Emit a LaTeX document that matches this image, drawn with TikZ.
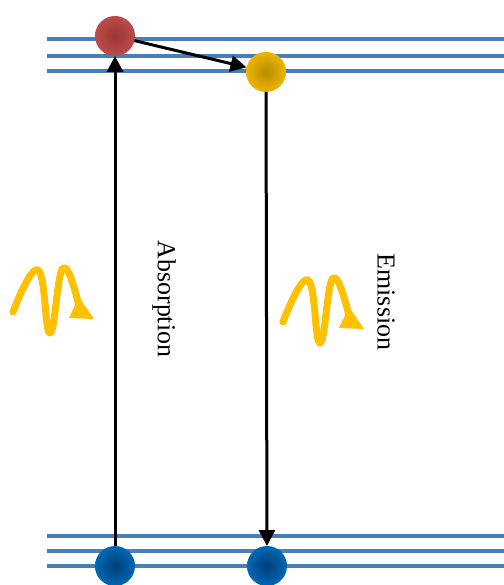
\documentclass[tikz,border=0pt]{standalone}
\usepackage{fontspec}
\setmainfont{Liberation Serif}
\usetikzlibrary{arrows.meta}
\definecolor{levelblue}{HTML}{4A7EBB}
\definecolor{photon}{HTML}{FFC000}
\definecolor{redA}{HTML}{BC4C4A}\definecolor{redB}{HTML}{9A3533}
\definecolor{yelA}{HTML}{EDB500}\definecolor{yelB}{HTML}{B88C00}
\definecolor{bluA}{HTML}{0067B5}\definecolor{bluB}{HTML}{003F78}
\tikzset{
  level/.style={levelblue, line width=4.5bp},
  particle/.style={circle, minimum size=40bp, inner sep=0pt, outer sep=0pt},
  redball/.style={particle, inner color=redB, outer color=redA},
  yelball/.style={particle, inner color=yelB, outer color=yelA},
  bluball/.style={particle, inner color=bluB, outer color=bluA},
  trans/.style={black, line width=3bp, -{Triangle[length=16bp,width=16bp]}},
  wave/.style={photon, line width=7bp, line cap=round, line join=round},
  label/.style={font=\fontsize{26}{30}\selectfont, rotate=-90, inner sep=0pt}
}
\begin{document}
\begin{tikzpicture}[x=1bp, y=-1bp]
\useasboundingbox (0,0) rectangle (504,585);
% energy levels
\foreach \y in {39,56,71,536,551,566}
  \draw[level] (47,\y) -- (504,\y);
% particles
\node[redball] (exc) at (115,36) {};
\node[yelball] (rel) at (266,72) {};
\node[bluball] (g1) at (115,566) {};
\node[bluball] (g2) at (267,566) {};
% transitions
\draw[trans] (g1) -- (exc);
\draw[trans] (exc) -- (rel);
\draw[trans] (rel) -- (g2);
% labels
\node[label] (abs) at (164,299) {Absorption};
\node[label] (emi) at (386,302) {Emission};
% photons
\foreach \dx/\dy in {0/0, 270/10}{
  \begin{scope}[shift={(\dx,\dy)}]
    \draw[wave] plot[smooth, tension=0.75] coordinates
      {(13,312) (38,270) (50,333) (63,268) (79,306)};
    \fill[photon] (94,319) -- (69,318) -- (79,297) -- cycle;
  \end{scope}
}
\end{tikzpicture}
\end{document}
